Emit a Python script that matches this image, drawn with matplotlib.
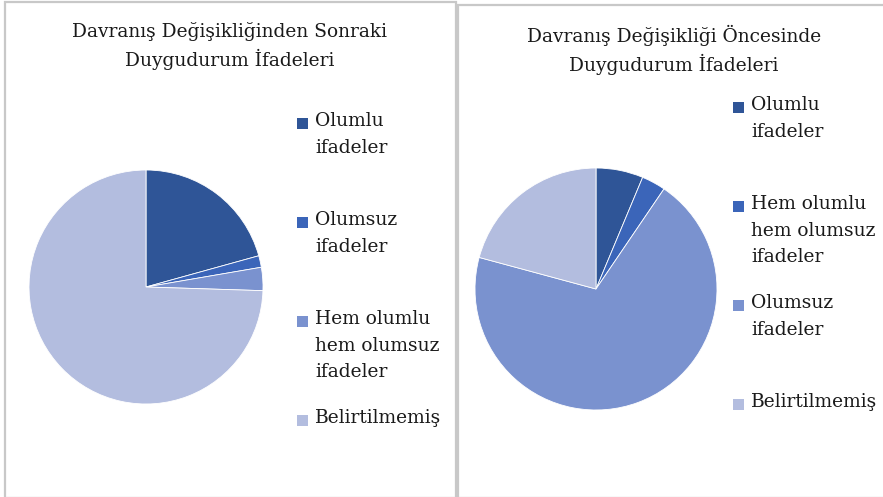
import matplotlib.pyplot as plt
from matplotlib.patches import Rectangle

# --------------------- data

after_title = "Davranış Değişikliğinden Sonraki\nDuygudurum İfadeleri"
after_labels = ["Olumlu\nifadeler", "Olumsuz\nifadeler",
                "Hem olumlu\nhem olumsuz\nifadeler", "Belirtilmemiş"]
after_values = [20.7, 1.6, 3.2, 74.5]

before_title = "Davranış Değişikliği Öncesinde\nDuygudurum İfadeleri"
before_labels = ["Olumlu\nifadeler", "Hem olumlu\nhem olumsuz\nifadeler",
                 "Olumsuz\nifadeler", "Belirtilmemiş"]
before_values = [6.3, 3.2, 69.7, 20.8]

colors = ["#2F5597", "#3B65B9", "#7A92CF", "#B3BDDF"]

W, H = 883, 497
plt.rcParams['font.family'] = ['DejaVu Serif']
FS = 13.4
TXT = "#1A1A1A"


def fx(px):
    return px / W


def fy(py):
    return 1 - py / H


def draw_panel(fig, box, pie_c, r, values, labels, title, title_xy,
               leg_x, leg_y0, leg_step):
    x0, y0, x1, y1 = box
    fig.patches.append(Rectangle((fx(x0), fy(y1)), fx(x1 - x0), (y1 - y0) / H,
                                 transform=fig.transFigure, fill=False,
                                 edgecolor="#C8C8C8", linewidth=1.6))
    cx, cy = pie_c
    ax = fig.add_axes([fx(cx - r), fy(cy + r), fx(2 * r), 2 * r / H])
    ax.pie(values, colors=colors, startangle=90, counterclock=False,
           wedgeprops=dict(edgecolor="white", linewidth=0.6))
    ax.set_aspect('equal')
    ax.set_xlim(-1, 1)
    ax.set_ylim(-1, 1)
    ax.axis('off')

    fig.text(fx(title_xy[0]), fy(title_xy[1]), title, ha='center', va='center',
             fontsize=FS, color=TXT, linespacing=1.5)

    for i, lab in enumerate(labels):
        y = leg_y0 + i * leg_step
        fig.patches.append(Rectangle((fx(leg_x), fy(y + 6)), fx(11), 11 / H,
                                     transform=fig.transFigure,
                                     facecolor=colors[i], edgecolor="none"))
        fig.text(fx(leg_x + 18), fy(y - 11), lab, ha='left', va='top',
                 fontsize=FS, color=TXT, linespacing=1.62)


fig = plt.figure(figsize=(W / 100, H / 100), dpi=100)

draw_panel(fig, (5, 2, 456, 498), (146, 287), 117, after_values, after_labels,
           after_title, (230, 46), 297, 123, 99)
draw_panel(fig, (458, 5, 890, 498), (596, 289), 121, before_values, before_labels,
           before_title, (674, 50), 733, 107, 99)

fig.savefig("out.png", dpi=100)
